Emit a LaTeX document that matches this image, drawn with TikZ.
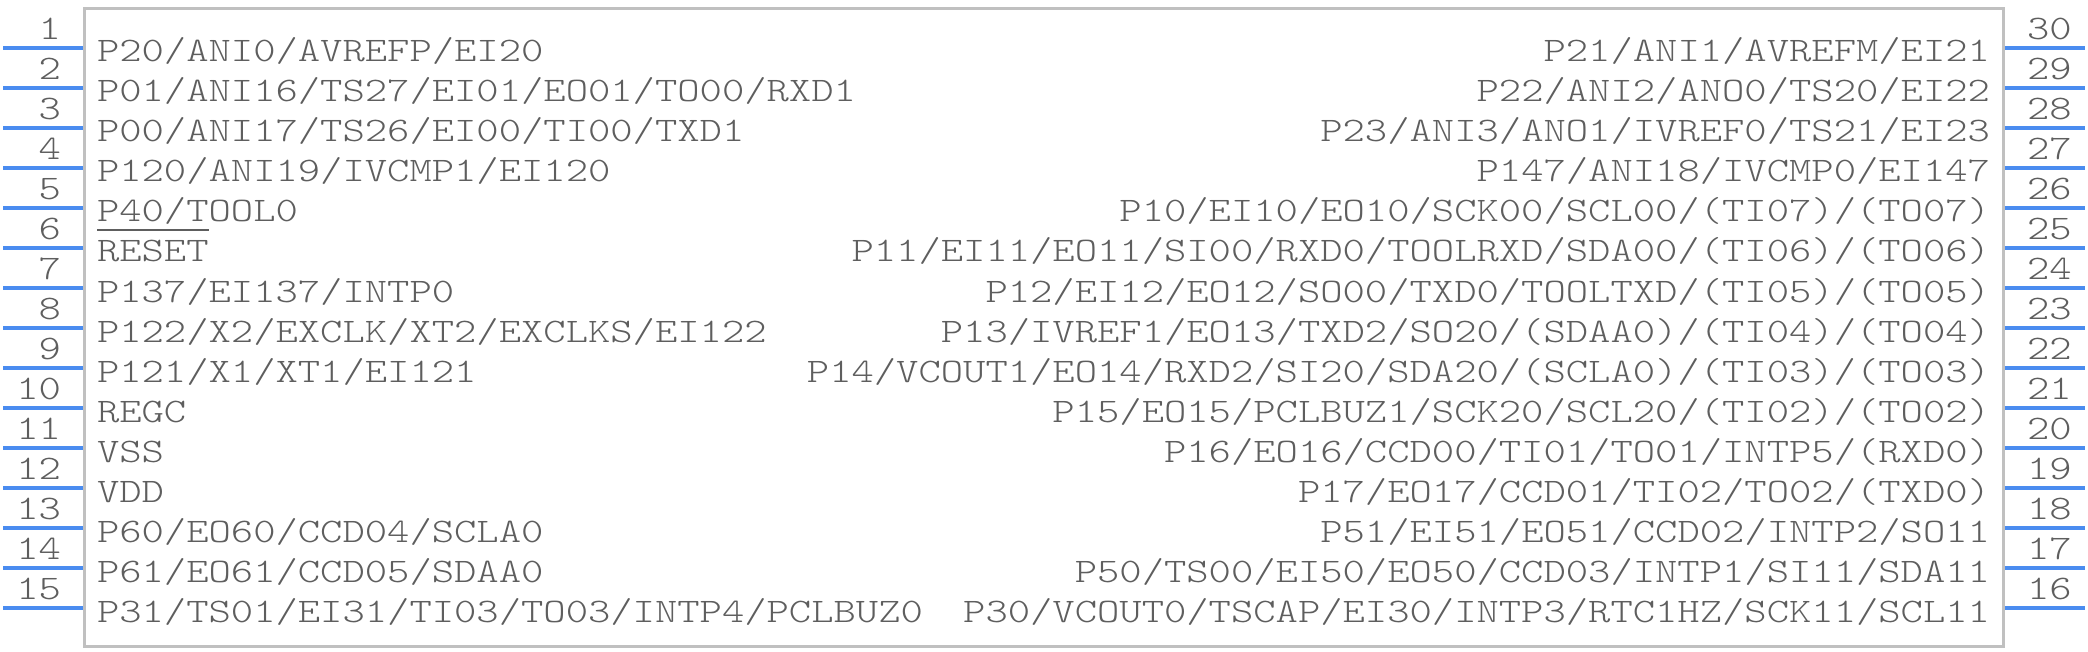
\documentclass[tikz,border=0pt]{standalone}
\usepackage{fontspec}
\setmainfont{Latin Modern Mono Light}[FakeStretch=1.236]
\definecolor{pinblue}{HTML}{4A8CF0}
\definecolor{bodygray}{HTML}{C0C0C0}
\definecolor{txtgray}{HTML}{5E5E5E}
\begin{document}
\begin{tikzpicture}[x=1pt,y=-1pt,
  lbl/.style={inner sep=0pt, outer sep=0pt, text=txtgray, font=\fontsize{34.4pt}{40pt}\selectfont},
  lblL/.style={lbl, anchor=base west},
  lblR/.style={lbl, anchor=base east},
  pinline/.style={draw=pinblue, line width=4pt},
  chipbody/.style={draw=bodygray, line width=3pt, fill=white}]
\useasboundingbox (0,0) rectangle (2088,652);
\fill[white] (0,0) rectangle (2088,652);
% body
\draw[chipbody] (84.5,9) rectangle (2003.5,646);
% left pins 1..15
\foreach \k in {1,...,15}{
  \pgfmathsetmacro{\py}{48+40*(\k-1)}
  \coordinate (pinLout\k) at (3,\py);
  \coordinate (pinLin\k) at (83,\py);
  \draw[pinline] (pinLout\k) -- (pinLin\k);
  \node[lbl, anchor=base east] (numL\k) at (61,\py-8.5) {\k};
}
% right pins 16..30
\foreach \k in {16,...,30}{
  \pgfmathsetmacro{\py}{48+40*(30-\k)}
  \coordinate (pinRin\k) at (2005,\py);
  \coordinate (pinRout\k) at (2085,\py);
  \draw[pinline] (pinRin\k) -- (pinRout\k);
  \node[lbl, anchor=base west] (numR\k) at (2027,\py-8.5) {\k};
}
% left labels
\node[lblL] (L1) at (97,62) {P20/ANI0/AVREFP/EI20};
\node[lblL] (L2) at (97,102) {P01/ANI16/TS27/EI01/EO01/TO00/RXD1};
\node[lblL] (L3) at (97,142) {P00/ANI17/TS26/EI00/TI00/TXD1};
\node[lblL] (L4) at (97,182) {P120/ANI19/IVCMP1/EI120};
\node[lblL] (L5) at (97,222) {P40/TOOL0};
\node[lblL] (L6) at (97,262) {RESET};
\draw[txtgray, line width=1.5pt] ([yshift=32pt]L6.base west) -- ([yshift=32pt]L6.base east);
\node[lblL] (L7) at (97,302) {P137/EI137/INTP0};
\node[lblL] (L8) at (97,342) {P122/X2/EXCLK/XT2/EXCLKS/EI122};
\node[lblL] (L9) at (97,382) {P121/X1/XT1/EI121};
\node[lblL] (L10) at (97,422) {REGC};
\node[lblL] (L11) at (97,462) {VSS};
\node[lblL] (L12) at (97,502) {VDD};
\node[lblL] (L13) at (97,542) {P60/EO60/CCD04/SCLA0};
\node[lblL] (L14) at (97,582) {P61/EO61/CCD05/SDAA0};
\node[lblL] (L15) at (97,622) {P31/TS01/EI31/TI03/TO03/INTP4/PCLBUZ0};
% right labels
\node[lblR] (R30) at (1990,62) {P21/ANI1/AVREFM/EI21};
\node[lblR] (R29) at (1990,102) {P22/ANI2/ANO0/TS20/EI22};
\node[lblR] (R28) at (1990,142) {P23/ANI3/ANO1/IVREF0/TS21/EI23};
\node[lblR] (R27) at (1990,182) {P147/ANI18/IVCMP0/EI147};
\node[lblR] (R26) at (1990,222) {P10/EI10/EO10/SCK00/SCL00/(TI07)/(TO07)};
\node[lblR] (R25) at (1990,262) {P11/EI11/EO11/SI00/RXD0/TOOLRXD/SDA00/(TI06)/(TO06)};
\node[lblR] (R24) at (1990,302) {P12/EI12/EO12/SO00/TXD0/TOOLTXD/(TI05)/(TO05)};
\node[lblR] (R23) at (1990,342) {P13/IVREF1/EO13/TXD2/SO20/(SDAA0)/(TI04)/(TO04)};
\node[lblR] (R22) at (1990,382) {P14/VCOUT1/EO14/RXD2/SI20/SDA20/(SCLA0)/(TI03)/(TO03)};
\node[lblR] (R21) at (1990,422) {P15/EO15/PCLBUZ1/SCK20/SCL20/(TI02)/(TO02)};
\node[lblR] (R20) at (1990,462) {P16/EO16/CCD00/TI01/TO01/INTP5/(RXD0)};
\node[lblR] (R19) at (1990,502) {P17/EO17/CCD01/TI02/TO02/(TXD0)};
\node[lblR] (R18) at (1990,542) {P51/EI51/EO51/CCD02/INTP2/SO11};
\node[lblR] (R17) at (1990,582) {P50/TS00/EI50/EO50/CCD03/INTP1/SI11/SDA11};
\node[lblR] (R16) at (1990,622) {P30/VCOUT0/TSCAP/EI30/INTP3/RTC1HZ/SCK11/SCL11};
\end{tikzpicture}
\end{document}
